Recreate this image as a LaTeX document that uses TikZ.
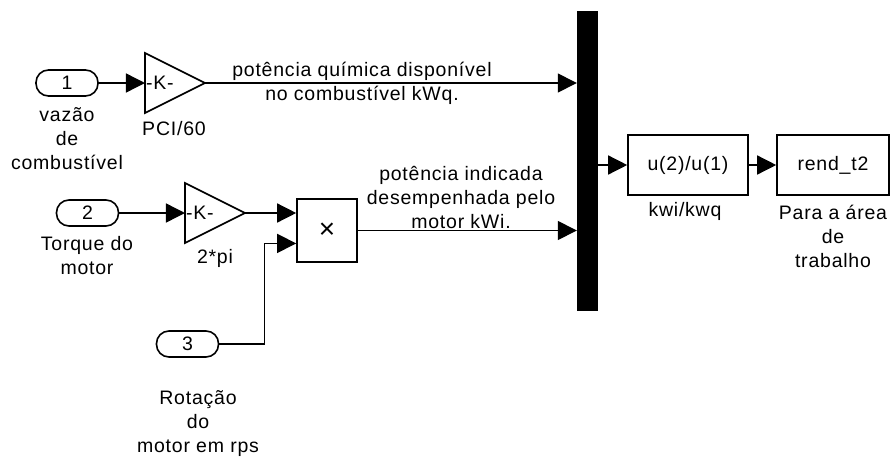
\documentclass[tikz,border=0pt]{standalone}
\usepackage{fontspec}
\setmainfont{Liberation Sans}[LetterSpace=4]
\usetikzlibrary{arrows.meta,positioning,shapes.geometric,calc}

\begin{document}
\begin{tikzpicture}[
  x=1pt, y=-1pt,
  font=\fontsize{19.5}{24}\selectfont,
  >={Triangle[length=19pt,width=19pt]},
  inport/.style={draw, line width=1.6pt, rounded corners=12.5pt,
    minimum width=62pt, minimum height=26pt, inner sep=0pt},
  gain/.style={draw, line width=1.6pt, isosceles triangle,
    isosceles triangle stretches, shape border rotate=0,
    minimum width=60pt, minimum height=60pt, inner sep=0pt, outer sep=0pt,
    anchor=west},
  block/.style={draw, line width=1.6pt, minimum height=60pt, inner sep=0pt},
  muxbar/.style={fill=black, minimum width=21pt, minimum height=300pt,
    inner sep=0pt},
  caption/.style={align=center, inner sep=0pt},
  sig/.style={->, line width=1.4pt}
]
\useasboundingbox (0,0) rectangle (891,461);

\node[inport] (in1) at (67,83) {1};
\node[inport] (in2) at (87.5,213) {2};
\node[inport] (in3) at (187.5,344) {3};

\node[gain] (g1) at (145,83) {};
\node[inner sep=1pt, anchor=west] (g1k) at (g1.west) {-K-};
\node[gain] (g2) at (185,213) {};
\node[inner sep=1pt, anchor=west] (g2k) at (g2.west) {-K-};

\node[block, minimum width=60pt, minimum height=63pt, font=\fontsize{28}{28}\selectfont]
  (prod) at (327,230.5) {×};
\coordinate (p2) at ($(prod.south west)!0.3!(prod.north west)$);
\coordinate (bend) at ($(p2)+(-32,0)$);

\node[muxbar] (mux) at (587.5,161) {};
\node[block, minimum width=120pt] (fcn) at (688,165) {u(2)/u(1)};
\node[block, minimum width=112pt] (out) at (833,165) {rend\_t2};

\node[caption] (in1lab) at (67,139) {vazão\\de\\combustível};
\node[caption] (in2lab) at (87,256) {Torque do\\motor};
\node[caption] (in3lab) at (198,424) {Rotação\\do\\motor em rps};
\node[caption] (g1lab) at (174,129) {PCI/60};
\node[caption] (g2lab) at (215,258) {2*pi};
\node[caption] (fcnlab) at (685,211) {kwi/kwq};
\node[caption] (outlab) at (833,236) {Para a área\\de\\trabalho};
\node[caption] (kwq) at (362,83) {potência química disponível\\no combustível kWq.};
\node[caption] (kwi) at (461,197) {potência indicada\\desempenhada pelo\\motor kWi.};

\foreach \a/\b in {in1/g1,in2/g2,fcn/out}
  \draw[sig] (\a) -- (\b);
\draw[sig] (g2.apex) -- (g2.apex -| prod.west);
\draw[sig] (in3.east) -| (bend) -- (p2);
\draw[sig] (g1.apex) -- (g1.apex -| mux.west);
\draw[sig] (prod.east) -- (prod.east -| mux.west);
\draw[sig] (mux.east |- fcn.west) -- (fcn.west);

\end{tikzpicture}
\end{document}
